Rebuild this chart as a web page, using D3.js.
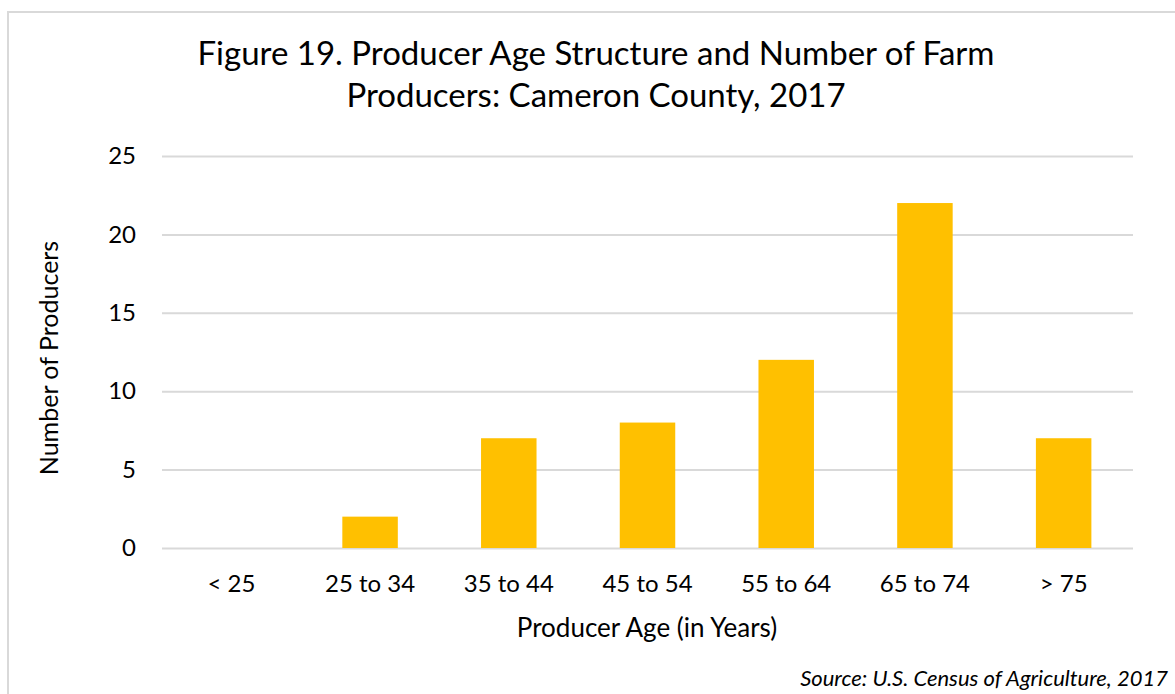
<!DOCTYPE html>
<html>
<head>
<meta charset="utf-8">
<script src="https://cdn.jsdelivr.net/npm/d3@7"></script>
<style>
  body { margin: 0; background: #fff; }
  text { font-family: Lato, "Open Sans", sans-serif; fill: #000; }
</style>
</head>
<body>
<div id="chart"></div>
<script>
// age groups and producer counts
const ageGroups = ["< 25", "25 to 34", "35 to 44", "45 to 54", "55 to 64", "65 to 74", "> 75"];
const producers = [0, 2, 7, 8, 12, 22, 7];
const yTicks = [0, 5, 10, 15, 20, 25];

const titleLines = ["Figure 19. Producer Age Structure and Number of Farm", "Producers: Cameron County, 2017"];
const xTitle = "Producer Age (in Years)";
const yTitle = "Number of Producers";
const sourceNote = "Source: U.S. Census of Agriculture, 2017";

const W = 1175, H = 694;
const margin = {top: 156, right: 42, bottom: 146, left: 162};
const width = W - margin.left - margin.right,
      height = H - margin.top - margin.bottom;

const svg = d3.select("#chart").append("svg")
  .attr("width", W)
  .attr("height", H);

// chart border (runs off the right and bottom edge)
svg.append("rect")
  .attr("x", 8).attr("y", 12)
  .attr("width", W).attr("height", H)
  .attr("fill", "none")
  .attr("stroke", "#d9d9d9")
  .attr("stroke-width", 2);

const g = svg.append("g")
  .attr("transform", `translate(${margin.left},${margin.top})`);

const x = d3.scaleBand()
  .domain(ageGroups)
  .range([0, width])
  .paddingInner(0.6)
  .paddingOuter(0.3);

const y = d3.scaleLinear()
  .domain([0, 25])
  .range([height, 0]);

// gridlines + y labels
const yAxis = g.append("g")
  .call(d3.axisLeft(y).tickValues(yTicks).tickSize(-width).tickPadding(26));
yAxis.select(".domain").remove();
yAxis.selectAll(".tick line").attr("stroke", "#d9d9d9").attr("stroke-width", 2);
yAxis.selectAll(".tick text").style("font-size", "24px").attr("fill", "#000");

// bars
g.selectAll(".bar")
  .data(producers)
  .enter().append("rect")
  .attr("class", "bar")
  .attr("x", (d, i) => x(ageGroups[i]))
  .attr("y", d => y(d))
  .attr("width", x.bandwidth())
  .attr("height", d => height - y(d))
  .attr("fill", "#ffc000");

// x axis labels
const xAxis = g.append("g")
  .attr("transform", `translate(0,${height})`)
  .call(d3.axisBottom(x).tickSize(0).tickPadding(27));
xAxis.select(".domain").remove();
xAxis.selectAll(".tick text").style("font-size", "24px").attr("fill", "#000");

// title
svg.append("text")
  .attr("text-anchor", "middle")
  .style("font-size", "33px")
  .selectAll("tspan")
  .data(titleLines)
  .enter().append("tspan")
  .attr("x", 596)
  .attr("y", (d, i) => 65 + i * 42)
  .text(d => d);

// axis titles
svg.append("text")
  .attr("x", 647).attr("y", 637)
  .attr("text-anchor", "middle")
  .style("font-size", "26px")
  .text(xTitle);

svg.append("text")
  .attr("transform", "translate(58,358) rotate(-90)")
  .attr("text-anchor", "middle")
  .style("font-size", "25px")
  .text(yTitle);

// source note
svg.append("text")
  .attr("x", 1168).attr("y", 686)
  .attr("text-anchor", "end")
  .style("font-size", "22px")
  .style("font-style", "italic")
  .text(sourceNote);
</script>
</body>
</html>
